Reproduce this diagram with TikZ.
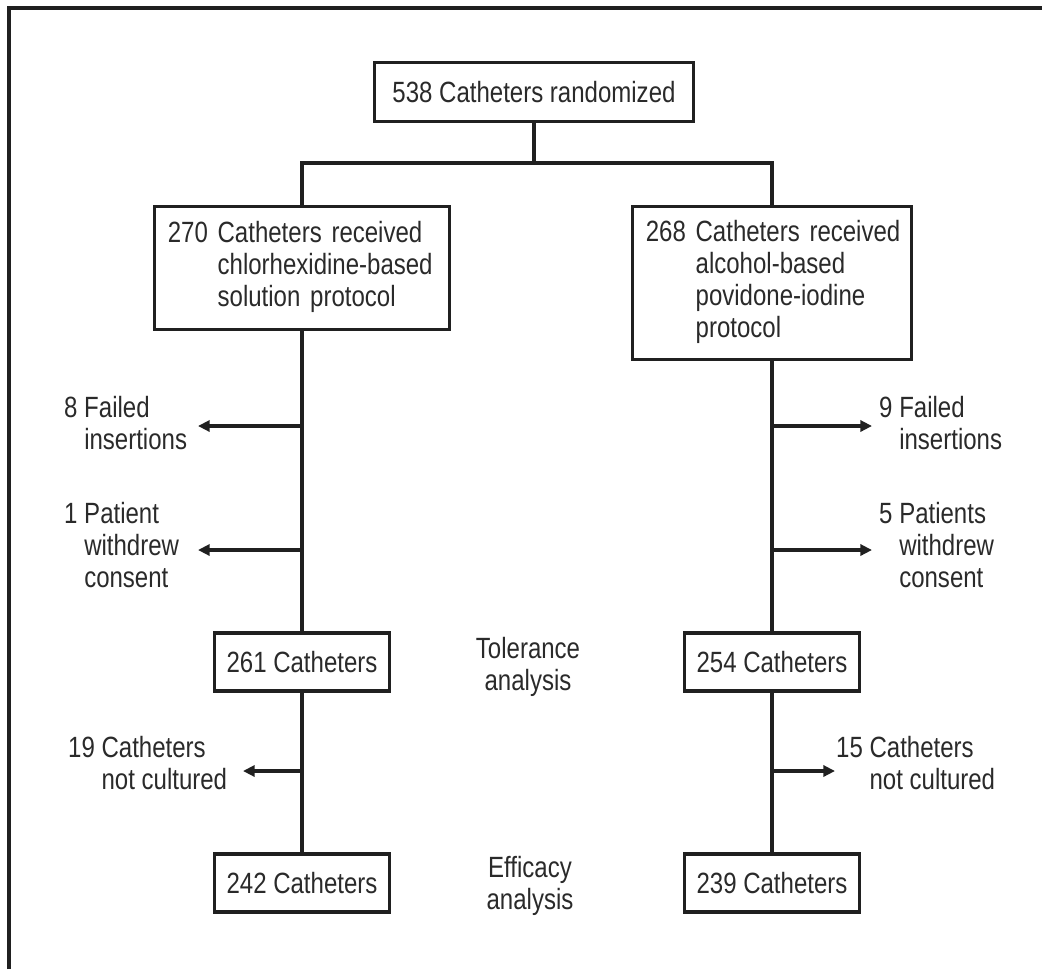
\documentclass[tikz,border=0pt]{standalone}
\usepackage{fontspec}
\setmainfont{Liberation Sans}[FakeStretch=0.82]
\usepackage{xcolor}
\usepackage{tikz}
\usetikzlibrary{calc,arrows.meta}
\definecolor{inkline}{HTML}{202020}
\definecolor{inktext}{HTML}{2A2A2A}
\newcommand{\hangtxt}[2]{\begin{tabular}{@{}l@{\ }l@{}}#1 & #2\end{tabular}}

\tikzset{
  box/.style={rectangle, draw=inkline, line width=2.6pt, fill=white, inner sep=0pt, align=center},
  wrapbox/.style={box, inner xsep=4mm, align=left},
  link/.style={draw=inkline, line width=2.6pt},
  outarrow/.style={link, -{Triangle[length=10pt, width=9.5pt]}},
  sidelbl/.style={inner sep=0pt, anchor=west, align=left},
  stage/.style={inner sep=0pt, align=center}
}

\begin{document}
\begin{tikzpicture}[x=0.3mm, y=-0.3mm, font=\fontsize{25}{27.5}\selectfont\color{inktext}]
\useasboundingbox (0,0) rectangle (1042,969);

% Frame
\draw[inkline, line width=2.6pt] (9,969) -- (9,8) -- (1042,8);

% Randomization
\node[box, minimum width=95.7mm, minimum height=17.7mm] (rand) at (534, 92) {538 Catheters randomized};
\coordinate (split) at (534, 163);

% Study arms
\node[wrapbox, text width=80.5mm, minimum height=36.9mm] (arm1) at (302, 268) {\hangtxt{270}{Catheters received\\ & chlorhexidine-based\\ & solution protocol}};
\node[wrapbox, text width=75.7mm, minimum height=45.9mm] (arm2) at (772, 283) {\hangtxt{268}{Catheters received\\ & alcohol-based\\ & povidone-iodine\\ & protocol}};

% Tolerance row
\node[box, minimum width=52.5mm, minimum height=17.4mm] (tol1) at (302, 662) {261 Catheters};
\node[box, minimum width=52.5mm, minimum height=17.4mm] (tol2) at (772, 662) {254 Catheters};
\node[stage] (tolr) at (528, 667) {Tolerance\\analysis};

% Efficacy row
\node[box, minimum width=52.5mm, minimum height=17.4mm] (eff1) at (302, 883) {242 Catheters};
\node[box, minimum width=52.5mm, minimum height=17.4mm] (eff2) at (772, 883) {239 Catheters};
\node[stage] (effr) at (530, 886) {Efficacy\\analysis};

% Exclusions, left arm
\node[sidelbl] (lx1) at (64, 427) {\hangtxt{8}{Failed\\ & insertions}};
\node[sidelbl] (lx2) at (64, 549) {\hangtxt{1}{Patient\\ & withdrew\\ & consent}};
\node[sidelbl] (lx3) at (68, 767) {\hangtxt{19}{Catheters\\ & not cultured}};
\coordinate (lt1) at (198, 426);
\coordinate (lt2) at (198, 550);
\coordinate (lt3) at (243, 771);

% Exclusions, right arm
\node[sidelbl] (rx1) at (879, 427) {\hangtxt{9}{Failed\\ & insertions}};
\node[sidelbl] (rx2) at (879, 549) {\hangtxt{5}{Patients\\ & withdrew\\ & consent}};
\node[sidelbl] (rx3) at (836, 767) {\hangtxt{15}{Catheters\\ & not cultured}};
\coordinate (rt1) at (872, 426);
\coordinate (rt2) at (872, 550);
\coordinate (rt3) at (835, 771);

% Connectors
\draw[link] (rand.south) -- (split);
\draw[link] (arm1.north) |- (split) -| (arm2.north);
\draw[link] (arm1.south) -- (tol1.north);
\draw[link] (tol1.south) -- (eff1.north);
\draw[link] (arm2.south) -- (tol2.north);
\draw[link] (tol2.south) -- (eff2.north);

% Exclusion arrows
\draw[outarrow] (arm1.south |- lt1) -- (lt1);
\draw[outarrow] (arm1.south |- lt2) -- (lt2);
\draw[outarrow] (tol1.south |- lt3) -- (lt3);
\draw[outarrow] (arm2.south |- rt1) -- (rt1);
\draw[outarrow] (arm2.south |- rt2) -- (rt2);
\draw[outarrow] (tol2.south |- rt3) -- (rt3);

\end{tikzpicture}
\end{document}
